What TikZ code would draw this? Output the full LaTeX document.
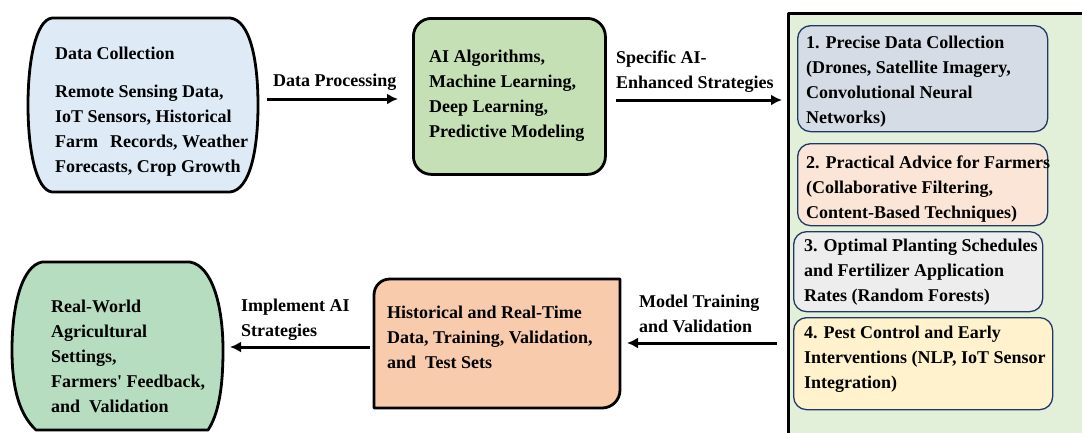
\documentclass[tikz,border=0pt]{standalone}
\usepackage{fontspec}
\setmainfont{Liberation Serif}
\usetikzlibrary{arrows.meta}
\definecolor{dcblue}{HTML}{DEEBF7}
\definecolor{aigreen}{HTML}{C5E0B4}
\definecolor{panelgreen}{HTML}{E2F0D9}
\definecolor{subone}{HTML}{D6DCE5}
\definecolor{subtwo}{HTML}{FBE5D6}
\definecolor{subthree}{HTML}{EDEDED}
\definecolor{subfour}{HTML}{FFF2CC}
\definecolor{historange}{HTML}{F8CBAD}
\definecolor{rwgreen}{HTML}{B7DDC0}
\definecolor{subedge}{HTML}{1F3864}
\newcommand\mylines[2]{\parbox[t]{#1}{\raggedright #2}}
\begin{document}
\begin{tikzpicture}[x=1pt,y=-1pt,
  txt/.style={anchor=base west, inner sep=0pt, font=\bfseries\fontsize{18}{25}\selectfont},
  bigline/.style={draw=black, line width=2.8pt, line join=round},
  subbox/.style={draw=subedge, line width=1.3pt, rounded corners=13pt, anchor=north west, inner sep=0pt},
  arr/.style={line width=3pt, -{Latex[length=11pt,width=11pt]}},
]
\useasboundingbox (0,0) rectangle (1082,432);
% right panel
\begin{scope}
\clip (0,0) rectangle (1082,432);
\node[bigline, fill=panelgreen, minimum width=340pt, minimum height=450pt, anchor=north west, inner sep=0pt] (panel) at (787,12) {};
\end{scope}
% sub boxes
\node[subbox, fill=subone, minimum width=250pt, minimum height=106pt] (b1) at (797,25) {};
\node[subbox, fill=subtwo, minimum width=250pt, minimum height=82pt] (b2) at (797,143) {};
\node[subbox, fill=subthree, minimum width=249pt, minimum height=80pt] (b3) at (793,231) {};
\node[subbox, fill=subfour, minimum width=259pt, minimum height=92pt] (b4) at (793,317) {};
\node[txt] (b1t) at (806,48) {\mylines{240pt}{1. Precise Data Collection\\(Drones, Satellite Imagery,\\Convolutional Neural\\Networks)}};
\node[txt] (b2t) at (806,168) {\mylines{250pt}{2. Practical Advice for Farmers\\(Collaborative Filtering,\\Content-Based Techniques)}};
\node[txt] (b3t) at (804,251) {\mylines{250pt}{3. Optimal Planting Schedules\\and Fertilizer Application\\Rates (Random Forests)}};
\node[txt] (b4t) at (804,338) {\mylines{250pt}{4. Pest Control and Early\\Interventions (NLP, IoT Sensor\\Integration)}};
% data collection
\draw[bigline, fill=dcblue] (52,18) -- (230,18)
  .. controls (250,20) and (258,60) .. (258,105)
  .. controls (258,150) and (250,190) .. (230,192)
  -- (52,192)
  .. controls (36,190) and (28,150) .. (28,105)
  .. controls (28,60) and (36,20) .. (52,18) -- cycle;
\node[txt] (dct) at (55,59) {Data Collection};
\node[txt] (dcb) at (55,97) {\mylines{220pt}{Remote Sensing Data,\\IoT Sensors, Historical\\Farm\hspace{12pt}Records, Weather\\Forecasts, Crop Growth}};
% AI box
\node[bigline, fill=aigreen, rounded corners=18pt, minimum width=192pt, minimum height=156pt, anchor=north west, inner sep=0pt] (ai) at (412,17) {};
\node[txt] (ait) at (429,62) {\mylines{180pt}{AI Algorithms,\\Machine Learning,\\Deep Learning,\\Predictive Modeling}};
% historical box
\draw[bigline, fill=historange] (374,408) -- (374,295) .. controls (374,286) and (381,279) .. (390,279) -- (620,279) -- (620,390) .. controls (620,400) and (612,408) .. (602,408) -- cycle;
\node[txt] (hist) at (387,318) {\mylines{240pt}{Historical and Real-Time\\Data, Training, Validation,\\and\ \ Test Sets}};
% real world box
\draw[bigline, fill=rwgreen] (42,262) -- (190,262)
  .. controls (212,266) and (223,305) .. (223,350)
  .. controls (223,390) and (218,415) .. (208,430)
  -- (36,430)
  .. controls (20,415) and (12,390) .. (12,350)
  .. controls (12,305) and (22,266) .. (42,262) -- cycle;
\node[txt] (rw) at (51,312) {\mylines{200pt}{Real-World\\Agricultural\\Settings,\\Farmers\textquotesingle{} Feedback,\\and\ \ Validation}};
% arrows
\coordinate (a1s) at (267,99); \coordinate (a1e) at (398,99);
\coordinate (a2s) at (616,100); \coordinate (a2e) at (782,100);
\coordinate (a3s) at (777,343); \coordinate (a3e) at (627,343);
\coordinate (a4s) at (370,347); \coordinate (a4e) at (230,347);
\draw[arr] (a1s) -- (a1e);
\draw[arr] (a2s) -- (a2e);
\draw[arr] (a3s) -- (a3e);
\draw[arr] (a4s) -- (a4e);
\node[txt] (l1) at (273,86) {Data Processing};
\node[txt] (l2) at (616,63) {\mylines{200pt}{Specific AI-\\Enhanced Strategies}};
\node[txt] (l3) at (639,307) {\mylines{200pt}{Model Training\\and Validation}};
\node[txt] (l4) at (241,311) {\mylines{200pt}{Implement AI\\Strategies}};
\end{tikzpicture}
\end{document}
